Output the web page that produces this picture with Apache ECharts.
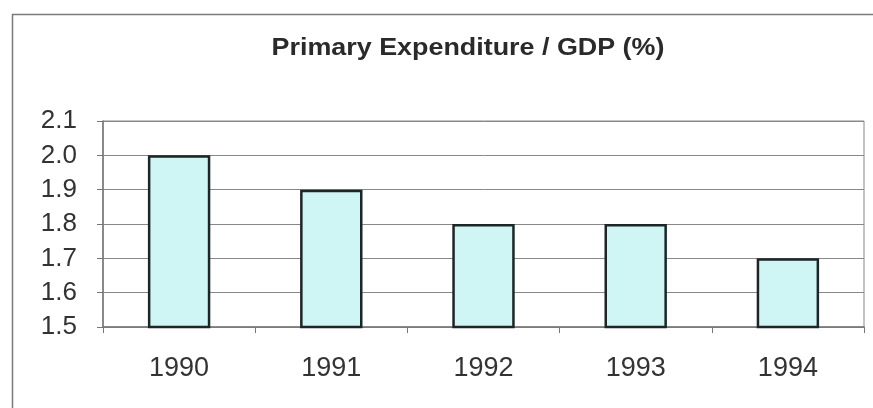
<!DOCTYPE html>
<html>
<head>
<meta charset="utf-8">
<script src="https://cdn.jsdelivr.net/npm/echarts@6/dist/echarts.min.js"></script>
<style>html,body{margin:0;padding:0;background:#fff}#c{width:873px;height:408px}</style>
</head>
<body>
<div id="c"></div>
<script>
const categories = ['1990', '1991', '1992', '1993', '1994'];
const values = [2.0, 1.9, 1.8, 1.8, 1.7];
const title = 'Primary Expenditure / GDP (%)';

const chart = echarts.init(document.getElementById('c'), null, {renderer: 'canvas'});
chart.setOption({
  animation: false,
  backgroundColor: '#ffffff',
  graphic: [{
    type: 'rect',
    shape: {x: 12.5, y: 14.5, width: 900, height: 500},
    style: {fill: null, stroke: '#7a7a7a', lineWidth: 1.5},
    silent: true
  }, {
    type: 'text',
    x: 468,
    y: 48,
    scaleX: 1.12,
    style: {
      text: title,
      fontFamily: 'Liberation Sans, Arial',
      fontWeight: 'bold',
      fontSize: 24,
      fill: '#2a2a2a',
      align: 'center',
      verticalAlign: 'middle'
    },
    silent: true
  }],
  grid: {left: 103, right: 9, top: 121, bottom: 81, show: true, borderColor: '#888888', borderWidth: 1},
  xAxis: {
    type: 'category',
    data: categories,
    axisLine: {lineStyle: {color: '#777777', width: 1.5}},
    axisTick: {show: true, alignWithLabel: false, length: 6, inside: false, lineStyle: {color: '#777777'}},
    axisLabel: {margin: 28, fontFamily: 'Liberation Sans, Arial', fontSize: 27, color: '#333333'},
    splitLine: {show: false}
  },
  yAxis: {
    type: 'value',
    min: 1.5,
    max: 2.1,
    interval: 0.1,
    axisLine: {show: true, lineStyle: {color: '#777777', width: 1.5}},
    axisTick: {show: true, length: 6, lineStyle: {color: '#777777'}},
    axisLabel: {margin: 26, fontFamily: 'Liberation Sans, Arial', fontSize: 26, color: '#333333',
      formatter: v => v.toFixed(1)},
    splitLine: {show: true, lineStyle: {color: '#888888', width: 1}}
  },
  series: [{
    type: 'bar',
    data: values,
    barWidth: '41%',
    itemStyle: {color: '#cff5f5', borderColor: '#1c2626', borderWidth: 2.5}
  }]
});
</script>
</body>
</html>
